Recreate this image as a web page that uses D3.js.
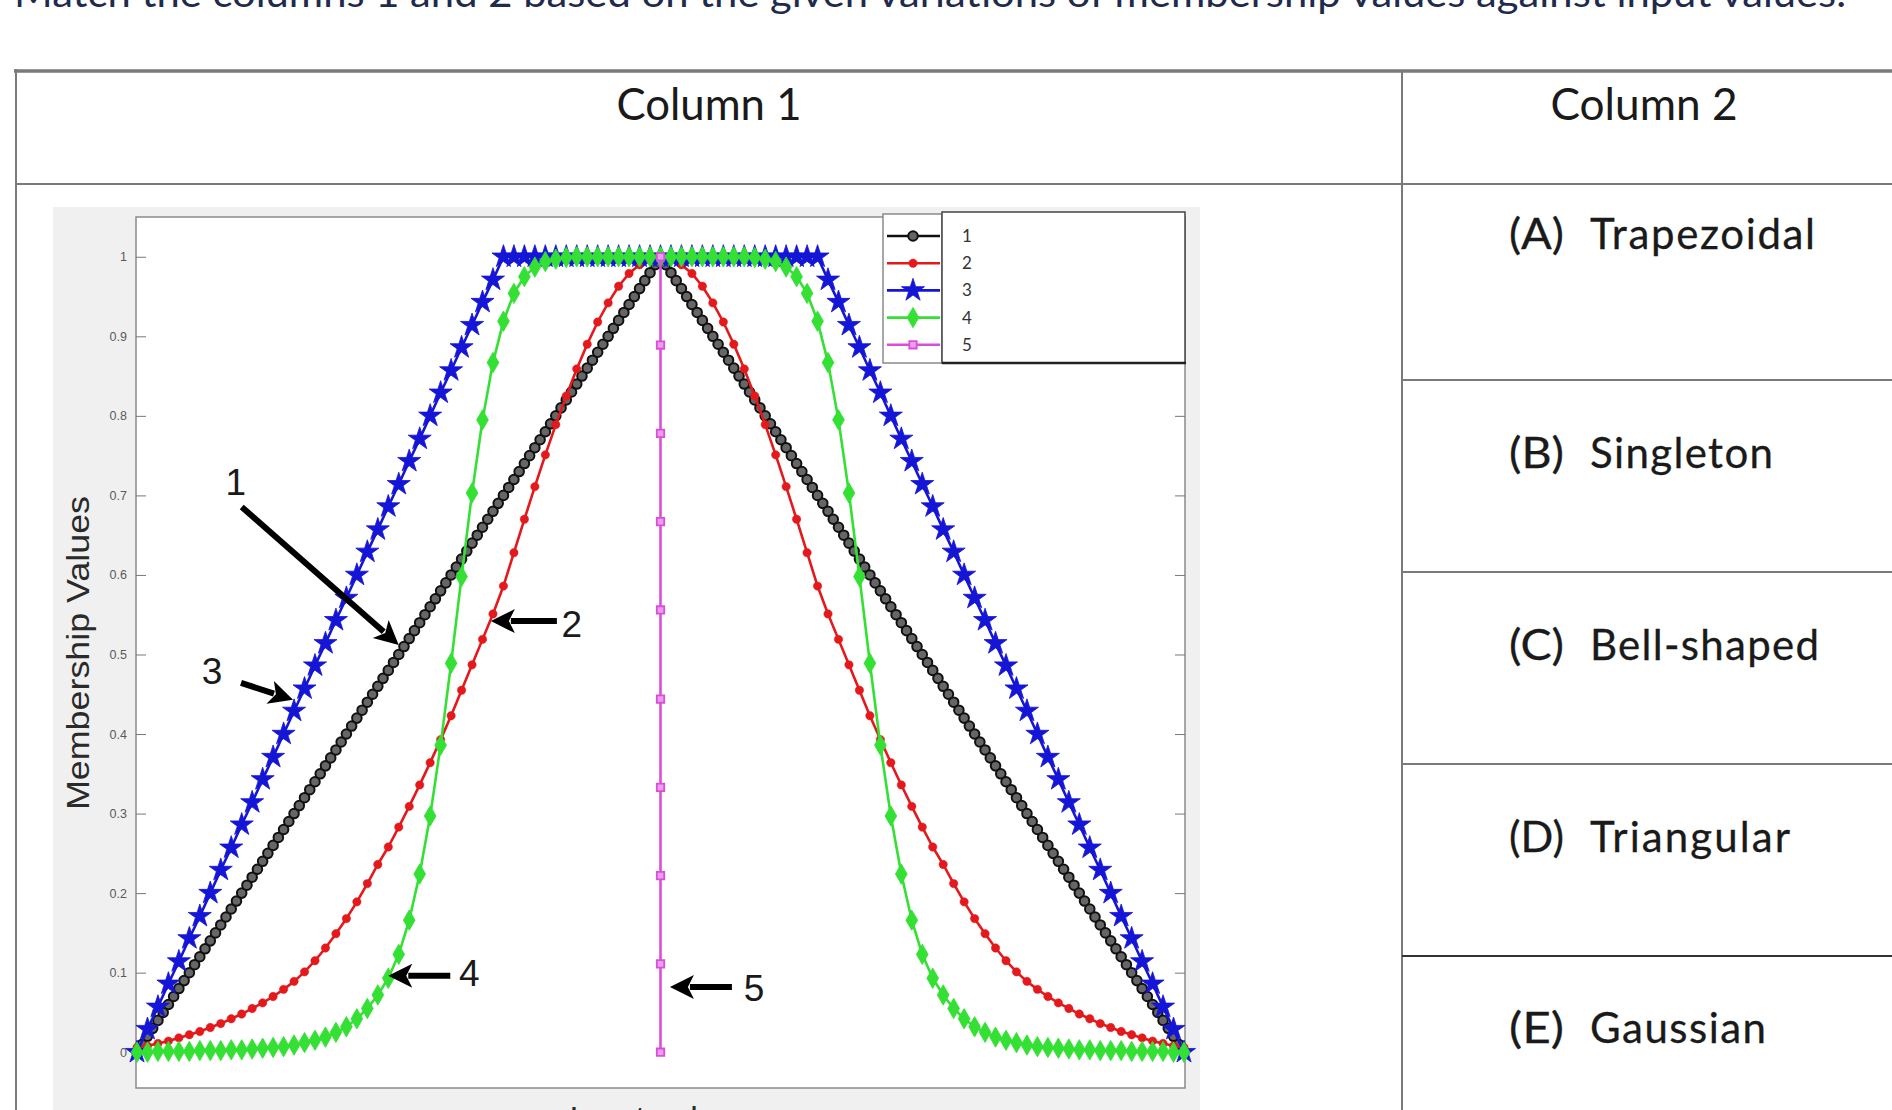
<!DOCTYPE html>
<html>
<head>
<meta charset="utf-8">
<script src="https://cdn.jsdelivr.net/npm/d3@7"></script>
<style>
html, body { margin: 0; padding: 0; background: #fff; overflow: hidden; }
svg { display: block; }
</style>
</head>
<body>
<script>
// ---- data ----
// input values (x) for the dense series and for the regular series
let inputFine = [
  0,0.5,1,1.5,2,2.5,3,3.5,4,4.5,5,5.5,6,6.5,7,7.5,8,8.5,9,9.5,
  10,10.5,11,11.5,12,12.5,13,13.5,14,14.5,15,15.5,16,16.5,17,17.5,18,18.5,19,19.5,
  20,20.5,21,21.5,22,22.5,23,23.5,24,24.5,25,25.5,26,26.5,27,27.5,28,28.5,29,29.5,
  30,30.5,31,31.5,32,32.5,33,33.5,34,34.5,35,35.5,36,36.5,37,37.5,38,38.5,39,39.5,
  40,40.5,41,41.5,42,42.5,43,43.5,44,44.5,45,45.5,46,46.5,47,47.5,48,48.5,49,49.5,
  50,50.5,51,51.5,52,52.5,53,53.5,54,54.5,55,55.5,56,56.5,57,57.5,58,58.5,59,59.5,
  60,60.5,61,61.5,62,62.5,63,63.5,64,64.5,65,65.5,66,66.5,67,67.5,68,68.5,69,69.5,
  70,70.5,71,71.5,72,72.5,73,73.5,74,74.5,75,75.5,76,76.5,77,77.5,78,78.5,79,79.5,
  80,80.5,81,81.5,82,82.5,83,83.5,84,84.5,85,85.5,86,86.5,87,87.5,88,88.5,89,89.5,
  90,90.5,91,91.5,92,92.5,93,93.5,94,94.5,95,95.5,96,96.5,97,97.5,98,98.5,99,99.5,
  100
];
let inputCoarse = [
  0,1,2,3,4,5,6,7,8,9,10,11,12,13,14,15,16,17,18,19,
  20,21,22,23,24,25,26,27,28,29,30,31,32,33,34,35,36,37,38,39,
  40,41,42,43,44,45,46,47,48,49,50,51,52,53,54,55,56,57,58,59,
  60,61,62,63,64,65,66,67,68,69,70,71,72,73,74,75,76,77,78,79,
  80,81,82,83,84,85,86,87,88,89,90,91,92,93,94,95,96,97,98,99,
  100
];

// series 1 (black, circles)
let series1 = [
  0,0.01,0.02,0.03,0.04,0.05,0.06,0.07,0.08,0.09,0.10,0.11,0.12,0.13,0.14,0.15,0.16,0.17,0.18,0.19,
  0.20,0.21,0.22,0.23,0.24,0.25,0.26,0.27,0.28,0.29,0.30,0.31,0.32,0.33,0.34,0.35,0.36,0.37,0.38,0.39,
  0.40,0.41,0.42,0.43,0.44,0.45,0.46,0.47,0.48,0.49,0.50,0.51,0.52,0.53,0.54,0.55,0.56,0.57,0.58,0.59,
  0.60,0.61,0.62,0.63,0.64,0.65,0.66,0.67,0.68,0.69,0.70,0.71,0.72,0.73,0.74,0.75,0.76,0.77,0.78,0.79,
  0.80,0.81,0.82,0.83,0.84,0.85,0.86,0.87,0.88,0.89,0.90,0.91,0.92,0.93,0.94,0.95,0.96,0.97,0.98,0.99,
  1,0.99,0.98,0.97,0.96,0.95,0.94,0.93,0.92,0.91,0.90,0.89,0.88,0.87,0.86,0.85,0.84,0.83,0.82,0.81,
  0.80,0.79,0.78,0.77,0.76,0.75,0.74,0.73,0.72,0.71,0.70,0.69,0.68,0.67,0.66,0.65,0.64,0.63,0.62,0.61,
  0.60,0.59,0.58,0.57,0.56,0.55,0.54,0.53,0.52,0.51,0.50,0.49,0.48,0.47,0.46,0.45,0.44,0.43,0.42,0.41,
  0.40,0.39,0.38,0.37,0.36,0.35,0.34,0.33,0.32,0.31,0.30,0.29,0.28,0.27,0.26,0.25,0.24,0.23,0.22,0.21,
  0.20,0.19,0.18,0.17,0.16,0.15,0.14,0.13,0.12,0.11,0.10,0.09,0.08,0.07,0.06,0.05,0.04,0.03,0.02,0.01,
  0
];

// series 2 (red, dots)
let series2 = [
  0.006,0.008,0.011,0.014,0.018,0.022,0.026,0.031,0.036,0.042,
  0.048,0.055,0.062,0.070,0.079,0.089,0.101,0.115,0.131,0.149,
  0.168,0.189,0.212,0.236,0.258,0.283,0.309,0.336,0.364,0.393,
  0.423,0.455,0.487,0.519,0.551,0.586,0.628,0.670,0.711,0.751,
  0.789,0.825,0.859,0.890,0.918,0.942,0.963,0.979,0.990,0.998,
  1,
  0.998,0.990,0.979,0.963,0.942,0.918,0.890,0.859,0.825,0.789,
  0.751,0.711,0.670,0.628,0.586,0.551,0.519,0.487,0.455,0.423,
  0.393,0.364,0.336,0.309,0.283,0.258,0.236,0.212,0.189,0.168,
  0.149,0.131,0.115,0.101,0.089,0.079,0.070,0.062,0.055,0.048,
  0.042,0.036,0.031,0.026,0.022,0.018,0.014,0.011,0.008,0.006
];

// series 3 (blue, stars)
let series3 = [
  0,0.029,0.057,0.086,0.114,0.143,0.171,0.2,0.229,0.257,
  0.286,0.314,0.343,0.371,0.4,0.429,0.457,0.486,0.514,0.543,
  0.571,0.6,0.629,0.657,0.686,0.714,0.743,0.771,0.8,0.829,
  0.857,0.886,0.914,0.943,0.971,1,1,1,1,1,
  1,1,1,1,1,1,1,1,1,1,
  1,1,1,1,1,1,1,1,1,1,
  1,1,1,1,1,1,0.971,0.943,0.914,0.886,
  0.857,0.829,0.8,0.771,0.743,0.714,0.686,0.657,0.629,0.6,
  0.571,0.543,0.514,0.486,0.457,0.429,0.4,0.371,0.343,0.314,
  0.286,0.257,0.229,0.2,0.171,0.143,0.114,0.086,0.057,0.029,
  0
];

// series 4 (green, diamonds)
let series4 = [
  0,0,0.001,0.001,0.001,0.001,0.002,0.002,0.002,0.003,
  0.003,0.004,0.005,0.006,0.007,0.009,0.012,0.015,0.019,0.025,
  0.032,0.042,0.055,0.072,0.093,0.123,0.166,0.224,0.297,0.386,
  0.489,0.598,0.703,0.795,0.867,0.919,0.954,0.975,0.987,0.994,
  0.997,0.999,1,1,1,1,1,1,1,1,
  1,
  1,1,1,1,1,1,1,1,0.999,0.997,
  0.994,0.987,0.975,0.954,0.919,0.867,0.795,0.703,0.598,0.489,
  0.386,0.297,0.224,0.166,0.123,0.093,0.072,0.055,0.042,0.032,
  0.025,0.019,0.015,0.012,0.009,0.007,0.006,0.005,0.004,0.003,
  0.003,0.002,0.002,0.002,0.001,0.001,0.001,0.001,0,0
];

// series 5 (magenta, squares) - singleton at the centre
let series5X = [50,50,50,50,50,50,50,50,50,50];
let series5 = [0,0.111,0.222,0.333,0.444,0.556,0.667,0.778,0.889,1];

let seriesNames = ["1", "2", "3", "4", "5"];
let yTicks = [0,0.1,0.2,0.3,0.4,0.5,0.6,0.7,0.8,0.9,1];
let yTickLabels = ["0","0.1","0.2","0.3","0.4","0.5","0.6","0.7","0.8","0.9","1"];

// arrow annotations: label and where the arrow points (x, membership)
let annotations = [
  { label: "1", x: 25.0, y: 0.512 },
  { label: "2", x: 33.8, y: 0.542 },
  { label: "3", x: 14.9, y: 0.443 },
  { label: "4", x: 24.0, y: 0.096 },
  { label: "5", x: 50.9, y: 0.082 }
];

let titleText = "Match the columns 1 and 2 based on the given variations of membership values against input values.";
let headers = ["Column 1", "Column 2"];
let optionLetters = ["(A)", "(B)", "(C)", "(D)", "(E)"];
let optionNames = ["Trapezoidal", "Singleton", "Bell-shaped", "Triangular", "Gaussian"];

// ---- page ----
let W = 1892, H = 1110;
let svg = d3.select("body").append("svg")
    .attr("width", W)
    .attr("height", H);

svg.append("rect").attr("width", W).attr("height", H).attr("fill", "#fff");

let docFont = "Lato, 'Open Sans', 'DejaVu Sans', sans-serif";
let plotFont = "'Liberation Sans', Arial, sans-serif";

// question line, cut off by the top edge
svg.append("text")
    .attr("x", 14)
    .attr("y", 7)
    .attr("font-family", docFont)
    .attr("font-size", 38)
    .attr("fill", "#1f2b4d")
    .attr("textLength", 1832)
    .attr("lengthAdjust", "spacingAndGlyphs")
    .text(titleText);

// table grid
let grid = svg.append("g").attr("stroke", "#7a7a7a").attr("fill", "none");
grid.append("line").attr("x1", 14).attr("x2", W).attr("y1", 71).attr("y2", 71).attr("stroke-width", 3.5);
grid.append("line").attr("x1", 16).attr("x2", 16).attr("y1", 69).attr("y2", H).attr("stroke-width", 2);
grid.append("line").attr("x1", 16).attr("x2", W).attr("y1", 184).attr("y2", 184).attr("stroke-width", 2);
grid.append("line").attr("x1", 1402).attr("x2", 1402).attr("y1", 71).attr("y2", H).attr("stroke-width", 2);
[380, 572, 764, 956].forEach(function(yy, i) {
    grid.append("line")
        .attr("x1", 1402).attr("x2", W)
        .attr("y1", yy).attr("y2", yy)
        .attr("stroke", i === 3 ? "#333" : "#7a7a7a")
        .attr("stroke-width", 2);
});

// headers
let headerX = [709, 1644];
let headerW = [185, 187];
headers.forEach(function(h, i) {
    svg.append("text")
        .attr("x", headerX[i])
        .attr("y", 120)
        .attr("text-anchor", "middle")
        .attr("font-family", docFont)
        .attr("font-size", 44)
        .attr("fill", "#1a1a1a")
        .attr("textLength", headerW[i])
        .attr("lengthAdjust", "spacingAndGlyphs")
        .text(h);
});

// column 2 options
let optionBase = [249, 468, 660, 852, 1043];
let optionNameW = [225, 183, 229, 200, 176];
optionLetters.forEach(function(l, i) {
    svg.append("text")
        .attr("x", 1509)
        .attr("y", optionBase[i])
        .attr("font-family", docFont)
        .attr("font-size", 42)
        .attr("fill", "#1a1a1a")
        .attr("stroke", "#1a1a1a")
        .attr("stroke-width", 0.3)
        .attr("textLength", 55)
        .attr("lengthAdjust", "spacingAndGlyphs")
        .text(l);
    svg.append("text")
        .attr("x", 1590)
        .attr("y", optionBase[i])
        .attr("font-family", docFont)
        .attr("font-size", 42)
        .attr("fill", "#1a1a1a")
        .attr("stroke", "#1a1a1a")
        .attr("stroke-width", 0.3)
        .attr("textLength", optionNameW[i])
        .attr("lengthAdjust", "spacing")
        .text(optionNames[i]);
});

// ---- the MATLAB-style figure ----
svg.append("rect")
    .attr("x", 53).attr("y", 207)
    .attr("width", 1147).attr("height", H - 207 + 5)
    .attr("fill", "#f0f0f0");

let plotL = 136, plotR = 1185, plotT = 217, plotB = 1088;

svg.append("rect")
    .attr("x", plotL).attr("y", plotT)
    .attr("width", plotR - plotL).attr("height", plotB - plotT)
    .attr("fill", "#fff")
    .attr("stroke", "#8a8a8a")
    .attr("stroke-width", 1.5);

let x = d3.scaleLinear().domain([0, 100]).range([plotL + 1, plotR - 1]);
let y = d3.scaleLinear().domain([-0.045, 1.05]).range([plotB, plotT]);

let leftAxis = d3.axisLeft(y)
    .tickValues(yTicks)
    .tickFormat(function(d, i) { return yTickLabels[i]; })
    .tickSizeInner(-10)
    .tickSizeOuter(0)
    .tickPadding(9);

let gl = svg.append("g")
    .attr("transform", "translate(" + plotL + ",0)")
    .call(leftAxis);
gl.select(".domain").remove();
gl.selectAll(".tick line").attr("stroke", "#777");
gl.selectAll(".tick text")
    .attr("font-family", plotFont)
    .attr("font-size", 12.5)
    .attr("fill", "#5a5a5a");

let rightAxis = d3.axisRight(y)
    .tickValues(yTicks)
    .tickFormat("")
    .tickSizeInner(-10)
    .tickSizeOuter(0);
let gr = svg.append("g")
    .attr("transform", "translate(" + plotR + ",0)")
    .call(rightAxis);
gr.select(".domain").remove();
gr.selectAll(".tick line").attr("stroke", "#777");

// axis labels
svg.append("text")
    .attr("transform", "translate(89,653) rotate(-90)")
    .attr("text-anchor", "middle")
    .attr("font-family", plotFont)
    .attr("font-size", 32)
    .attr("fill", "#2a2a2a")
    .attr("textLength", 314)
    .attr("lengthAdjust", "spacingAndGlyphs")
    .text("Membership Values");

svg.append("text")
    .attr("x", 661)
    .attr("y", 1130)
    .attr("text-anchor", "middle")
    .attr("font-family", plotFont)
    .attr("font-size", 34)
    .attr("fill", "#2a2a2a")
    .text("Input values");

// series
let seriesList = [
    { name: seriesNames[0], xs: inputFine,   ys: series1, color: "#111111", symbol: d3.symbolCircle,  size: 72,  fill: "#666666", stroke: "#111111", sw: 2.0 },
    { name: seriesNames[1], xs: inputCoarse, ys: series2, color: "#e3191c", symbol: d3.symbolCircle,  size: 55,  fill: "#e3191c", stroke: "#e3191c", sw: 0.5 },
    { name: seriesNames[2], xs: inputCoarse, ys: series3, color: "#1515d6", symbol: d3.symbolStar,    size: 165, fill: "#1515d6", stroke: "#1515d6", sw: 0.8 },
    { name: seriesNames[3], xs: inputCoarse, ys: series4, color: "#33e033", symbol: d3.symbolDiamond, size: 120, fill: "#33e033", stroke: "#33e033", sw: 0.8 },
    { name: seriesNames[4], xs: series5X,    ys: series5, color: "#d94fd9", symbol: d3.symbolSquare,  size: 55,  fill: "#ec9cec", stroke: "#d94fd9", sw: 1.8 }
];

let line = d3.line()
    .x(function(d) { return x(d[0]); })
    .y(function(d) { return y(d[1]); });

seriesList.forEach(function(s) {
    let pts = s.xs.map(function(v, i) { return [v, s.ys[i]]; });
    let g = svg.append("g").attr("class", "series");
    g.append("path")
        .datum(pts)
        .attr("d", line)
        .attr("fill", "none")
        .attr("stroke", s.color)
        .attr("stroke-width", 2.6);
    g.selectAll("path.mk")
        .data(pts)
        .enter().append("path")
        .attr("class", "mk")
        .attr("d", d3.symbol().type(s.symbol).size(s.size))
        .attr("transform", function(d) { return "translate(" + x(d[0]) + "," + y(d[1]) + ")"; })
        .attr("fill", s.fill)
        .attr("stroke", s.stroke)
        .attr("stroke-width", s.sw);
});

// legend (two boxes as in the figure)
svg.append("rect")
    .attr("x", 883).attr("y", 214)
    .attr("width", 59).attr("height", 149)
    .attr("fill", "#fff")
    .attr("stroke", "#8a8a8a")
    .attr("stroke-width", 1.5);
svg.append("rect")
    .attr("x", 942).attr("y", 212)
    .attr("width", 243).attr("height", 151)
    .attr("fill", "#fff")
    .attr("stroke", "#444")
    .attr("stroke-width", 1.5);
svg.append("line")
    .attr("x1", 942).attr("x2", 1186)
    .attr("y1", 363).attr("y2", 363)
    .attr("stroke", "#222").attr("stroke-width", 2.5);

seriesList.forEach(function(s, i) {
    let ly = 236 + i * 27.2;
    svg.append("line")
        .attr("x1", 887).attr("x2", 940)
        .attr("y1", ly).attr("y2", ly)
        .attr("stroke", s.color).attr("stroke-width", 2.6);
    svg.append("path")
        .attr("d", d3.symbol().type(s.symbol).size(s.size))
        .attr("transform", "translate(913," + ly + ")")
        .attr("fill", s.fill)
        .attr("stroke", s.stroke)
        .attr("stroke-width", s.sw);
    svg.append("text")
        .attr("x", 962)
        .attr("y", ly + 6)
        .attr("font-family", docFont)
        .attr("font-size", 17)
        .attr("fill", "#333")
        .text(s.name);
});

// arrows with the curve numbers
let arrowLayout = {
    "1": { tail: [-157, -138], text: [-163, -150] },
    "2": { tail: [66, 0], text: [81, 16] },
    "3": { tail: [-52, -17], text: [-81, -16] },
    "4": { tail: [62, 0], text: [81, 10] },
    "5": { tail: [62, 0], text: [84, 14] }
};

annotations.forEach(function(a) {
    let tx = x(a.x), ty = y(a.y);
    let lay = arrowLayout[a.label];
    let sx = tx + lay.tail[0], sy = ty + lay.tail[1];
    let ang = Math.atan2(ty - sy, tx - sx);
    let headLen = 24, headHalf = 12;
    let bx = tx - headLen * Math.cos(ang), by = ty - headLen * Math.sin(ang);
    svg.append("line")
        .attr("x1", sx).attr("y1", sy)
        .attr("x2", bx + 4 * Math.cos(ang)).attr("y2", by + 4 * Math.sin(ang))
        .attr("stroke", "#000")
        .attr("stroke-width", 6);
    let px = -Math.sin(ang), py = Math.cos(ang);
    svg.append("path")
        .attr("d", "M" + tx + "," + ty +
                   "L" + (bx + px * headHalf) + "," + (by + py * headHalf) +
                   "L" + (bx + Math.cos(ang) * 6) + "," + (by + Math.sin(ang) * 6) +
                   "L" + (bx - px * headHalf) + "," + (by - py * headHalf) + "Z")
        .attr("fill", "#000");
    svg.append("text")
        .attr("x", tx + lay.text[0])
        .attr("y", ty + lay.text[1])
        .attr("text-anchor", "middle")
        .attr("font-family", plotFont)
        .attr("font-size", 37)
        .attr("fill", "#1a1a1a")
        .text(a.label);
});
</script>
</body>
</html>
